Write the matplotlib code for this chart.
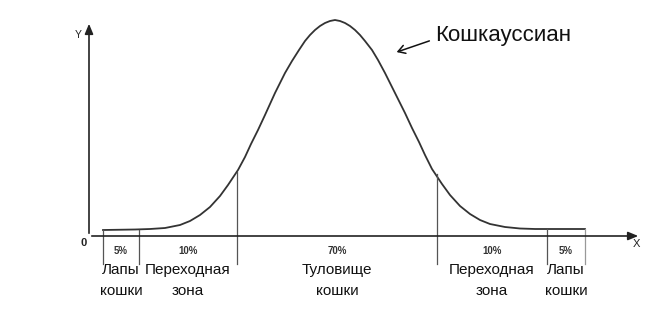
import matplotlib
matplotlib.use("Agg")
import matplotlib.pyplot as plt

plt.rcParams['font.family'] = ['Liberation Sans', 'DejaVu Sans']

# curve (x to the right of the Y axis, height above the X axis)
curve_x = [14, 46, 61, 76, 91, 101, 111, 121, 131, 139, 149, 156, 162, 169, 176, 181,
           186, 191, 196, 203, 210, 216, 221, 226, 231, 236, 241, 246,
           251, 256, 261, 266, 271, 276, 283, 289, 296, 301, 306, 311, 316, 323, 330,
           336, 343, 353, 361, 371, 381, 391, 401, 416, 431, 446, 458, 496]
curve_y = [6, 6.5, 7, 8, 11, 15, 21, 29, 40, 51, 66, 79, 92, 106, 121, 132,
           143, 153, 163, 175, 186, 195, 201, 206, 210, 213, 215, 216,
           215, 213, 210, 206, 201, 195, 186, 176, 163, 153, 143, 133, 123, 108, 94,
           81, 67, 52, 41, 30, 22, 16, 12, 9, 7.5, 7, 7, 7]

bounds_x = [14, 50, 148, 348, 458, 496]
bounds_top = [6, 6, 64, 62, 7, 7]
percents = ['5%', '10%', '70%', '10%', '5%']
zones = ['Лапы\nкошки', 'Переходная\nзона', 'Туловище\nкошки', 'Переходная\nзона', 'Лапы\nкошки']

fig = plt.figure(figsize=(6.5, 3.14), dpi=100)
ax = fig.add_axes([0, 0, 1, 1])
ax.set_xlim(-89, 561)
ax.set_ylim(-78, 236)
ax.axis('off')

# axes with arrows
ax.annotate('', xy=(552, 0), xytext=(0, 0),
            arrowprops=dict(arrowstyle='-|>,head_length=0.6,head_width=0.25', color='#222', lw=1.2))
ax.annotate('', xy=(0, 215), xytext=(0, 0),
            arrowprops=dict(arrowstyle='-|>,head_length=0.6,head_width=0.25', color='#222', lw=1.2))
ax.text(-11, 201, 'Y', fontsize=7.5, ha='center', va='center', color='#222')
ax.text(547, -8, 'X', fontsize=8, ha='center', va='center', color='#222')
ax.text(-5, -7, '0', fontsize=8, ha='center', va='center', color='#222', fontweight='bold')

ax.plot(curve_x, curve_y, color='#333', lw=1.3, solid_joinstyle='round')

for i, (bx, bt) in enumerate(zip(bounds_x, bounds_top)):
    c = '#999' if i == len(bounds_x) - 1 else '#555'
    ax.plot([bx, bx], [bt, -28], color=c, lw=0.9)

for i in range(len(percents)):
    mid = (bounds_x[i] + bounds_x[i + 1]) / 2
    ax.text(mid, -15, percents[i], fontsize=7, ha='center', va='center',
            color='#333', fontweight='bold')
    ax.text(mid, -27, zones[i], fontsize=11, ha='center', va='top',
            linespacing=1.6, color='#111')

ax.annotate('', xy=(305, 183), xytext=(343, 196),
            arrowprops=dict(arrowstyle='->,head_length=0.5,head_width=0.3', color='#111', lw=1.1))
ax.text(346, 200, 'Кошкауссиан', fontsize=16, ha='left', va='center', color='#111')

fig.savefig('out.png', dpi=100)
